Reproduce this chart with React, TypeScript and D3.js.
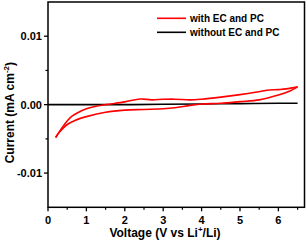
import React from "react";
import * as d3 from "d3";

const lowerV = [0.2, 0.3, 0.5, 0.7, 1.0, 1.5, 2.0, 2.5, 3.0, 3.3, 3.7, 4.0, 4.5, 5.0, 5.5, 6.0, 6.3, 6.5];
const lowerI = [-0.0048, -0.004, -0.0029, -0.0023, -0.00175, -0.0011, -0.0008, -0.0007, -0.0006, -0.00045, -0.0001, 0.0001, 0.0002, 0.00044, 0.0007, 0.0014, 0.002, 0.0026];
const upperV = [6.5, 6.2, 6.0, 5.7, 5.4, 5.0, 4.5, 4.0, 3.7, 3.3, 3.0, 2.7, 2.4, 2.0, 1.5, 1.2, 1.0, 0.8, 0.6, 0.4, 0.2];
const upperI = [0.0026, 0.0023, 0.0022, 0.0021, 0.0018, 0.00146, 0.0011, 0.0008, 0.0007, 0.0008, 0.00078, 0.0007, 0.00083, 0.0004, 0.0, -0.0003, -0.0006, -0.0011, -0.0018, -0.0031, -0.0048];
const blackV = [0, 1, 2, 3, 4, 5, 6, 6.5];
const blackI = [0, 0, 0, 0.00005, 0.0001, 0.00015, 0.0002, 0.0002];

const xMajor = [0, 1, 2, 3, 4, 5, 6];
const xMinor = [0.5, 1.5, 2.5, 3.5, 4.5, 5.5, 6.5];
const yMajor = [-0.01, 0, 0.01];
const yMajorLabels = ["-0.01", "0.00", "0.01"];
const yMinor = [-0.005, 0.005];
const legendLabels = ["with EC and PC", "without EC and PC"];

const W = 307, H = 243;
const L = 48, R = 304.5, T = 2, B = 207.3;

export default function App() {
  const x = d3.scaleLinear().domain([0, 6.68]).range([L, R]);
  const y = d3.scaleLinear().domain([-0.015, 0.015]).range([B, T]);
  const line = d3.line<[number, number]>().x(d => x(d[0])).y(d => y(d[1])).curve(d3.curveCatmullRom.alpha(0.5));
  const lowPts = lowerV.map((v, i) => [v, lowerI[i]] as [number, number]);
  const upPts = upperV.map((v, i) => [v, upperI[i]] as [number, number]);
  const blkPts = blackV.map((v, i) => [v, blackI[i]] as [number, number]);
  const font = "Arial, 'Liberation Sans', Helvetica, sans-serif";
  return (
    <svg width={W} height={H} style={{ position: "absolute", left: 0, top: 0, background: "#fff" }} fontFamily={font}>
      <path d={line(blkPts) || ""} fill="none" stroke="#000" strokeWidth={1.6} />
      <path d={line(lowPts) || ""} fill="none" stroke="#ff0000" strokeWidth={1.6} />
      <path d={line(upPts) || ""} fill="none" stroke="#ff0000" strokeWidth={1.6} />
      <rect x={L} y={T} width={R - L} height={B - T} fill="none" stroke="#000" strokeWidth={1.5} />
      {xMajor.map(v => (
        <g key={"xm" + v}>
          <line x1={x(v)} x2={x(v)} y1={B} y2={B + 4} stroke="#000" strokeWidth={1.3} />
          <text x={x(v)} y={224} textAnchor="middle" fontSize={11} fontWeight="bold">{v}</text>
        </g>
      ))}
      {xMinor.map(v => (
        <line key={"xn" + v} x1={x(v)} x2={x(v)} y1={B} y2={B + 2.5} stroke="#000" strokeWidth={1.2} />
      ))}
      {yMajor.map((v, i) => (
        <g key={"ym" + v}>
          <line x1={L - 4} x2={L} y1={y(v)} y2={y(v)} stroke="#000" strokeWidth={1.3} />
          <text x={L - 6} y={y(v) + 4} textAnchor="end" fontSize={11} fontWeight="bold">{yMajorLabels[i]}</text>
        </g>
      ))}
      {yMinor.map(v => (
        <line key={"yn" + v} x1={L - 2.5} x2={L} y1={y(v)} y2={y(v)} stroke="#000" strokeWidth={1.2} />
      ))}
      <text x={165} y={237} textAnchor="middle" fontSize={12} fontWeight="bold">
        Voltage (V vs Li<tspan fontSize={8} dy={-5}>+</tspan><tspan dy={5}>/Li)</tspan>
      </text>
      <text transform={`translate(14,${(T + B) / 2 + 8}) rotate(-90)`} textAnchor="middle" fontSize={12} fontWeight="bold">
        Current (mA cm<tspan fontSize={8} dy={-5}>-2</tspan><tspan dy={5}>)</tspan>
      </text>
      <line x1={157} x2={186} y1={18.3} y2={18.3} stroke="#ff0000" strokeWidth={1.6} />
      <text x={190} y={21.8} fontSize={10} fontWeight="bold">{legendLabels[0]}</text>
      <line x1={157} x2={186} y1={32.3} y2={32.3} stroke="#000" strokeWidth={1.6} />
      <text x={190} y={35.8} fontSize={10} fontWeight="bold">{legendLabels[1]}</text>
    </svg>
  );
}
